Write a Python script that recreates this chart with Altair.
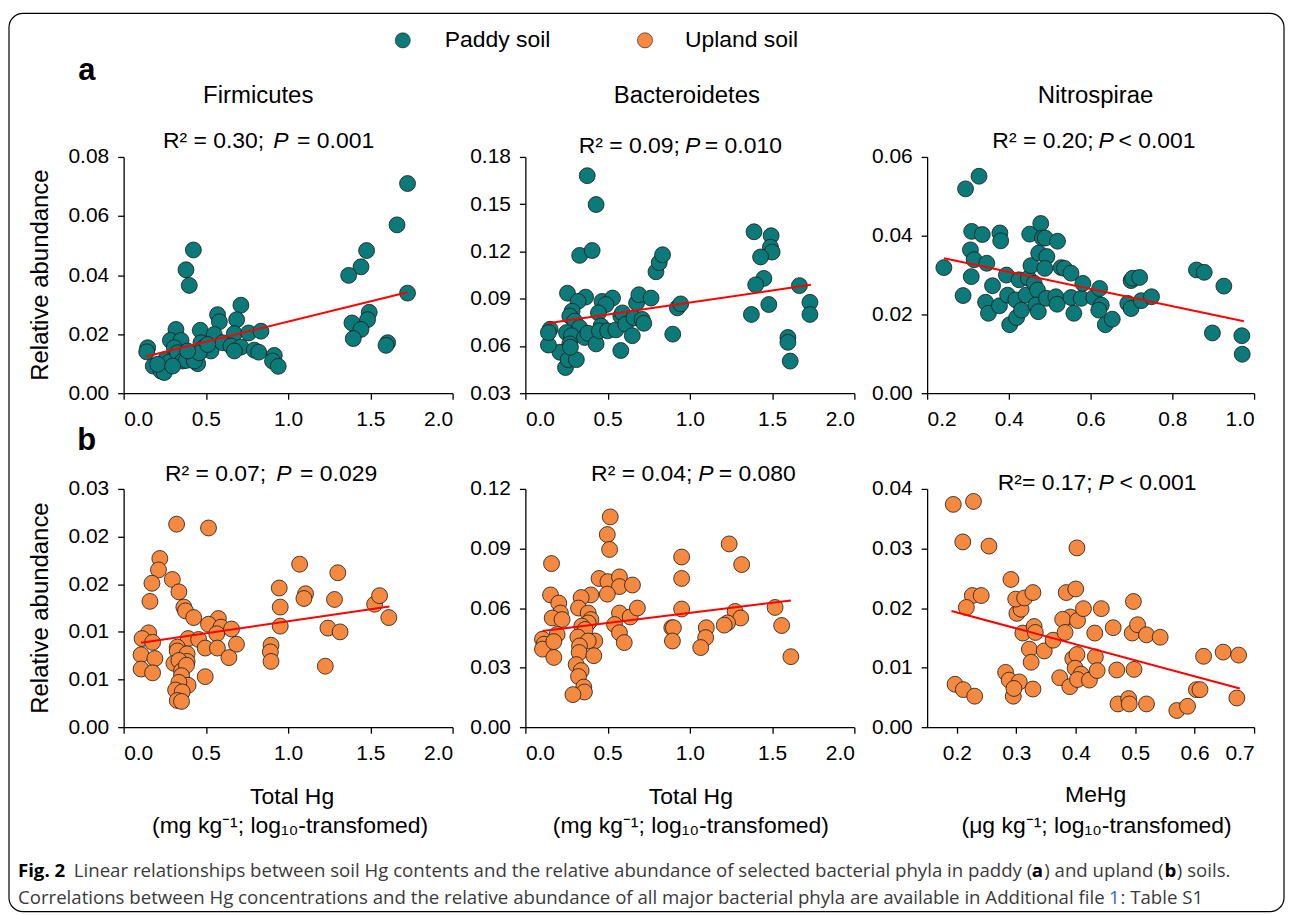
import altair as alt
import pandas as pd

TEAL = "#0b7a78"
ORANGE = "#f5893f"

# ---------------- data ----------------
# (a) paddy soil, Firmicutes vs Total Hg
a1_pts = [(1.726,0.0710),(1.662,0.0570),(1.477,0.0483),(1.443,0.0428),(1.368,0.0399),
          (1.726,0.0339),(1.493,0.0274),(1.483,0.0249),(1.388,0.0238),(1.443,0.0216),
          (1.396,0.0185),(1.605,0.0171),(1.595,0.0162),(0.424,0.0485),(0.379,0.0418),
          (0.399,0.0365),(0.713,0.0298),(0.571,0.0266),(0.582,0.0242),(0.687,0.0249),
          (0.466,0.0213),(0.551,0.0199),(0.673,0.0202),(0.760,0.0204),(0.835,0.0210),
          (0.318,0.0216),(0.284,0.0179),(0.349,0.0179),(0.470,0.0171),(0.486,0.0154),
          (0.531,0.0143),(0.602,0.0171),(0.652,0.0160),(0.713,0.0156),(0.673,0.0143),
          (0.794,0.0146),(0.821,0.0139),(0.916,0.0128),(0.905,0.0109),(0.940,0.0091),
          (0.146,0.0154),(0.140,0.0140),(0.180,0.0092),(0.227,0.0075),(0.247,0.0070),
          (0.257,0.0115),(0.278,0.0106),(0.308,0.0154),(0.328,0.0137),(0.359,0.0109),
          (0.381,0.0111),(0.450,0.0100),(0.430,0.0109),(0.460,0.0137),(0.207,0.0098),
          (0.298,0.0092),(0.389,0.0143),(0.511,0.0165)]
a1_fit_x = [0.136, 1.726]
a1_fit_y = [0.0124, 0.0342]

# (a) paddy soil, Bacteroidetes vs Total Hg
a2_pts = [(0.376,0.1681),(0.430,0.1498),(0.330,0.1175),(0.406,0.1206),(0.256,0.0935),
          (0.366,0.0910),(0.320,0.0883),(0.466,0.0883),(0.530,0.0904),(0.490,0.0863),
          (0.444,0.0810),(0.284,0.0821),(0.270,0.0790),(0.300,0.0758),(0.330,0.0717),
          (0.250,0.0685),(0.280,0.0665),(0.360,0.0654),(0.380,0.0681),(0.430,0.0613),
          (0.460,0.0727),(0.450,0.0696),(0.500,0.0696),(0.550,0.0702),(0.580,0.0790),
          (0.590,0.0810),(0.610,0.0738),(0.650,0.0665),(0.660,0.0779),(0.676,0.0873),
          (0.690,0.0925),(0.710,0.0769),(0.720,0.0744),(0.764,0.0904),(0.580,0.0571),
          (0.270,0.0613),(0.210,0.0560),(0.140,0.0606),(0.150,0.0706),(0.140,0.0685),
          (0.244,0.0463),(0.260,0.0513),(0.310,0.0513),(0.274,0.0592),(0.794,0.1071),
          (0.814,0.1129),(0.834,0.1179),(0.896,0.0675),(0.924,0.0842),(0.944,0.0867),
          (1.390,0.1325),(1.494,0.1300),(1.490,0.1227),(1.500,0.1196),(1.430,0.1165),
          (1.450,0.1029),(1.400,0.0988),(1.480,0.0863),(1.374,0.0800),(1.666,0.0983),
          (1.730,0.0877),(1.730,0.0800),(1.596,0.0654),(1.596,0.0623),(1.610,0.0504)]
a2_fit_x = [0.136, 1.736]
a2_fit_y = [0.0744, 0.0988]

# (a) paddy soil, Nitrospirae vs MeHg
a3_pts = [(0.241,0.0319),(0.294,0.0519),(0.327,0.0551),(0.309,0.0411),(0.335,0.0403),
          (0.378,0.0407),(0.380,0.0387),(0.306,0.0364),(0.315,0.0339),(0.346,0.0330),
          (0.308,0.0296),(0.288,0.0248),(0.343,0.0231),(0.350,0.0203),(0.360,0.0273),
          (0.377,0.0222),(0.394,0.0300),(0.397,0.0249),(0.402,0.0174),(0.419,0.0192),
          (0.417,0.0237),(0.431,0.0211),(0.425,0.0288),(0.442,0.0249),(0.448,0.0292),
          (0.451,0.0404),(0.454,0.0324),(0.462,0.0279),(0.470,0.0262),(0.466,0.0224),
          (0.472,0.0207),(0.478,0.0431),(0.482,0.0394),(0.489,0.0394),(0.473,0.0356),
          (0.493,0.0347),(0.488,0.0317),(0.492,0.0241),(0.515,0.0245),(0.518,0.0226),
          (0.519,0.0386),(0.528,0.0319),(0.536,0.0317),(0.552,0.0305),(0.552,0.0243),
          (0.559,0.0203),(0.577,0.0241),(0.581,0.0279),(0.608,0.0243),(0.622,0.0266),
          (0.626,0.0224),(0.620,0.0211),(0.636,0.0174),(0.653,0.0188),(0.691,0.0228),
          (0.699,0.0215),(0.699,0.0286),(0.703,0.0292),(0.720,0.0294),(0.724,0.0235),
          (0.749,0.0245),(0.859,0.0313),(0.878,0.0307),(0.926,0.0272),(0.898,0.0153),
          (0.970,0.0146),(0.971,0.0099)]
a3_fit_x = [0.241, 0.975]
a3_fit_y = [0.0343, 0.0183]

# (b) upland soil, Firmicutes vs Total Hg
b1_pts = [(0.322,0.0213),(0.516,0.0209),(0.220,0.0177),(0.212,0.0165),(0.296,0.0155),
          (0.172,0.0151),(0.336,0.0142),(0.160,0.0132),(0.366,0.0126),(0.376,0.0122),
          (0.426,0.0115),(0.576,0.0114),(0.516,0.0108),(0.592,0.0105),(0.656,0.0103),
          (0.566,0.0098),(0.152,0.0099),(0.112,0.0093),(0.176,0.0089),(0.392,0.0093),
          (0.456,0.0092),(0.496,0.0083),(0.570,0.0083),(0.686,0.0087),(0.326,0.0084),
          (0.326,0.0080),(0.386,0.0077),(0.106,0.0076),(0.190,0.0072),(0.306,0.0067),
          (0.386,0.0069),(0.336,0.0070),(0.352,0.0059),(0.382,0.0065),(0.106,0.0061),
          (0.176,0.0057),(0.496,0.0053),(0.640,0.0073),(0.352,0.0054),(0.392,0.0044),
          (0.336,0.0047),(0.316,0.0039),(0.356,0.0037),(0.326,0.0028),(0.352,0.0027),
          (0.896,0.0086),(0.892,0.0079),(0.896,0.0069),(0.946,0.0146),(0.952,0.0126),
          (0.952,0.0106),(1.070,0.0171),(1.106,0.0140),(1.096,0.0135),(1.242,0.0104),
          (1.226,0.0064),(1.282,0.0134),(1.302,0.0162),(1.316,0.0100),(1.526,0.0129),
          (1.556,0.0138),(1.612,0.0115)]
b1_fit_x = [0.106, 1.616]
b1_fit_y = [0.00885, 0.01266]

# (b) upland soil, Bacteroidetes vs Total Hg
b2_pts = [(0.516,0.1059),(0.498,0.0970),(0.512,0.0895),(0.159,0.0824),(0.448,0.0749),
          (0.502,0.0733),(0.572,0.0757),(0.572,0.0708),(0.651,0.0716),(0.498,0.0670),
          (0.153,0.0666),(0.398,0.0666),(0.339,0.0653),(0.203,0.0625),(0.323,0.0600),
          (0.213,0.0575),(0.163,0.0550),(0.223,0.0542),(0.382,0.0575),(0.398,0.0542),
          (0.382,0.0525),(0.572,0.0575),(0.637,0.0555),(0.681,0.0600),(0.542,0.0517),
          (0.572,0.0476),(0.601,0.0426),(0.343,0.0509),(0.363,0.0492),(0.319,0.0454),
          (0.193,0.0467),(0.104,0.0443),(0.114,0.0418),(0.104,0.0393),(0.173,0.0431),
          (0.422,0.0434),(0.382,0.0434),(0.329,0.0409),(0.327,0.0376),(0.416,0.0360),
          (0.173,0.0351),(0.309,0.0315),(0.339,0.0285),(0.323,0.0255),(0.355,0.0202),
          (0.359,0.0177),(0.289,0.0164),(0.890,0.0501),(0.900,0.0501),(0.894,0.0434),
          (0.950,0.0857),(0.950,0.0749),(0.950,0.0595),(1.100,0.0501),(1.096,0.0451),
          (1.066,0.0401),(1.239,0.0923),(1.315,0.0819),(1.275,0.0583),(1.309,0.0550),
          (1.229,0.0525),(1.209,0.0514),(1.518,0.0603),(1.558,0.0512),(1.614,0.0355)]
b2_fit_x = [0.104, 1.614]
b2_fit_y = [0.0484, 0.0638]

# (b) upland soil, Nitrospirae vs MeHg
b3_pts = [(0.194,0.0374),(0.228,0.0379),(0.210,0.0311),(0.254,0.0304),(0.291,0.0248),
          (0.226,0.0221),(0.241,0.0221),(0.216,0.0201),(0.197,0.0072),(0.211,0.0063),
          (0.230,0.0052),(0.282,0.0092),(0.288,0.0079),(0.295,0.0052),(0.305,0.0076),
          (0.296,0.0065),(0.301,0.0191),(0.308,0.0198),(0.299,0.0215),(0.314,0.0217),
          (0.328,0.0226),(0.311,0.0158),(0.330,0.0169),(0.332,0.0159),(0.322,0.0131),
          (0.325,0.0109),(0.347,0.0128),(0.362,0.0146),(0.328,0.0064),(0.384,0.0226),
          (0.400,0.0232),(0.402,0.0301),(0.391,0.0185),(0.378,0.0181),(0.382,0.0159),
          (0.403,0.0179),(0.413,0.0199),(0.443,0.0199),(0.432,0.0158),(0.463,0.0167),
          (0.395,0.0115),(0.402,0.0122),(0.399,0.0099),(0.409,0.0089),(0.373,0.0083),
          (0.390,0.0068),(0.403,0.0080),(0.423,0.0079),(0.433,0.0118),(0.436,0.0095),
          (0.469,0.0096),(0.471,0.0039),(0.489,0.0048),(0.490,0.0039),(0.498,0.0097),
          (0.497,0.0211),(0.495,0.0158),(0.504,0.0172),(0.519,0.0155),(0.542,0.0151),
          (0.519,0.0039),(0.570,0.0028),(0.588,0.0035),(0.603,0.0063),(0.609,0.0063),
          (0.615,0.0119),(0.648,0.0126),(0.674,0.0121),(0.671,0.0049)]
b3_fit_x = [0.191, 0.676]
b3_fit_y = [0.0195, 0.0065]

# axes
hg_ticks = [0.0, 0.5, 1.0, 1.5, 2.0]
mehg_a_ticks = [0.2, 0.4, 0.6, 0.8, 1.0]
mehg_b_ticks = [0.2, 0.3, 0.4, 0.5, 0.6, 0.7]
a1_yticks = [0.0, 0.02, 0.04, 0.06, 0.08]
a2_yticks = [0.03, 0.06, 0.09, 0.12, 0.15, 0.18]
a3_yticks = [0.0, 0.02, 0.04, 0.06]
b1_yticks = [0.0, 0.005, 0.01, 0.015, 0.02, 0.025]
b2_yticks = [0.0, 0.03, 0.06, 0.09, 0.12]
b3_yticks = [0.0, 0.01, 0.02, 0.03, 0.04]

FONT = "Liberation Sans"


def txt(s, x, y, size=23, weight="normal", style="normal", align="center",
        baseline="middle", color="black", font=FONT, angle=None):
    kw = dict(fontSize=size, fontWeight=weight, fontStyle=style, align=align,
              baseline=baseline, color=color, font=font)
    if angle is not None:
        kw["angle"] = angle
    return alt.Chart(pd.DataFrame({"t": [s]})).mark_text(**kw).encode(
        x=alt.value(x), y=alt.value(y), text="t:N")


def r2(left, rest, semi, pl, rl, y):
    return [txt(left, semi, y, align="right"),
            txt("P", pl, y, style="italic", align="left"),
            txt(rest, rl, y, align="left")]


def panel(pts, fx, fy, color, xdom, xticks, ydom, yticks, w, h, extra, ylabelexpr=None):
    df = pd.DataFrame(pts, columns=["x", "y"])
    fit = pd.DataFrame({"x": fx, "y": fy})
    xsc = alt.Scale(domain=xdom, nice=False, zero=False)
    ysc = alt.Scale(domain=ydom, nice=False, zero=False)
    xax = alt.Axis(values=xticks, format=".1f", title=None, grid=False)
    if ylabelexpr:
        yax = alt.Axis(values=yticks, format=".3f", title=None, grid=False, labelExpr=ylabelexpr)
    else:
        yax = alt.Axis(values=yticks, format=".2f", title=None, grid=False)
    pts_layer = alt.Chart(df).mark_circle(size=255, opacity=1, color=color,
                                          stroke="#1a1a1a", strokeWidth=0.8).encode(
        x=alt.X("x:Q", scale=xsc, axis=xax), y=alt.Y("y:Q", scale=ysc, axis=yax))
    line_layer = alt.Chart(fit).mark_line(color="#ff0000", strokeWidth=2).encode(
        x=alt.X("x:Q", scale=xsc, axis=xax), y=alt.Y("y:Q", scale=ysc, axis=yax))
    return alt.layer(pts_layer, line_layer, *extra).properties(width=w, height=h)


# ---------- decorations (pixel positions relative to each panel) ----------
border = alt.Chart(pd.DataFrame({"t": [0]})).mark_rect(
    fillOpacity=0, stroke="black", strokeWidth=1.2, cornerRadius=14).encode(
    x=alt.value(-115), x2=alt.value(1164), y=alt.value(-144), y2=alt.value(757))

legend_paddy = alt.Chart(pd.DataFrame({"t": [0]})).mark_circle(
    size=230, opacity=1, color=TEAL, stroke="#1a1a1a", strokeWidth=0.6).encode(
    x=alt.value(280), y=alt.value(-117))
legend_upland = alt.Chart(pd.DataFrame({"t": [0]})).mark_circle(
    size=230, opacity=1, color=ORANGE, stroke="#1a1a1a", strokeWidth=0.6).encode(
    x=alt.value(523), y=alt.value(-117))

a1_extra = [border, legend_paddy, legend_upland,
            txt("Paddy soil", 322, -117, align="left"),
            txt("Upland soil", 563, -117, align="left"),
            txt("a", -37, -86, size=31, weight="bold"),
            txt("Firmicutes", 135, -61, size=24),
            txt("Relative abundance", -83, 118.5, size=24, angle=270)] + \
           r2("R² = 0.30;", "= 0.001", 141, 150, 174, -15.5)

a2_extra = [txt("Bacteroidetes", 162, -61, size=24)] + \
           r2("R² = 0.09;", "= 0.010", 155, 160, 180, -11)

a3_extra = [txt("Nitrospirae", 169, -61, size=24)] + \
           r2("R² = 0.20;", "< 0.001", 167, 172, 192, -15.5)

CAP = "#3a3a3a"
CF = "Open Sans"
CS = 18.7
b1_extra = [txt("b", -37, -48, size=31, weight="bold"),
            txt("Relative abundance", -83, 119.5, size=24, angle=270),
            txt("Total Hg", 169, 309),
            txt("(mg kg⁻¹; log₁₀-transfomed)", 167, 338),
            txt("Fig. 2", -106, 389, size=CS, weight="bold", align="left", baseline="alphabetic", font=CF),
            txt("Linear relationships between soil Hg contents and the relative abundance of selected bacterial phyla in paddy (",
                -50, 389, size=CS, align="left", baseline="alphabetic", color=CAP, font=CF),
            txt("a", 911, 389, size=CS, weight="bold", align="left", baseline="alphabetic", font=CF),
            txt(") and upland (", 923.5, 389, size=CS, align="left", baseline="alphabetic", color=CAP, font=CF),
            txt("b", 1044, 389, size=CS, weight="bold", align="left", baseline="alphabetic", font=CF),
            txt(") soils.", 1056.5, 389, size=CS, align="left", baseline="alphabetic", color=CAP, font=CF),
            txt("Correlations between Hg concentrations and the relative abundance of all major bacterial phyla are available in Additional file",
                -106, 416, size=CS, align="left", baseline="alphabetic", color=CAP, font=CF),
            txt("1", 988.5, 416, size=CS, align="left", baseline="alphabetic", color="#3b5bdb", font=CF),
            txt(": Table S1", 1000, 416, size=CS, align="left", baseline="alphabetic", color=CAP, font=CF)] + \
           r2("R² = 0.07;", "= 0.029", 143, 153, 177, -15)

b2_extra = [txt("Total Hg", 166, 309),
            txt("(mg kg⁻¹; log₁₀-transfomed)", 166, 338)] + \
           r2("R² = 0.04;", "= 0.080", 167.5, 173.5, 194, -15)

b3_extra = [txt("MeHg", 169, 307),
            txt("(μg kg⁻¹; log₁₀-transfomed)", 170, 338)] + \
           r2("R²= 0.17;", "< 0.001", 166, 172, 193, -6)

a1 = panel(a1_pts, a1_fit_x, a1_fit_y, TEAL, [0, 2], hg_ticks, [0, 0.08], a1_yticks, 330, 237, a1_extra)
a2 = panel(a2_pts, a2_fit_x, a2_fit_y, TEAL, [0, 2], hg_ticks, [0.03, 0.18], a2_yticks, 330, 237, a2_extra)
a3 = panel(a3_pts, a3_fit_x, a3_fit_y, TEAL, [0.2, 1.0], mehg_a_ticks, [0, 0.06], a3_yticks, 328, 237, a3_extra)
b1 = panel(b1_pts, b1_fit_x, b1_fit_y, ORANGE, [0, 2], hg_ticks, [0, 0.025], b1_yticks, 330, 239, b1_extra,
           ylabelexpr="format(round(datum.value*100 + 0.0001)/100, '.2f')")
b2 = panel(b2_pts, b2_fit_x, b2_fit_y, ORANGE, [0, 2], hg_ticks, [0, 0.12], b2_yticks, 330, 239, b2_extra)
b3 = panel(b3_pts, b3_fit_x, b3_fit_y, ORANGE, [0.15, 0.7], mehg_b_ticks, [0, 0.04], b3_yticks, 328, 239, b3_extra)

chart = alt.concat(a1, a2, a3, b1, b2, b3, columns=3,
                   spacing={"row": 96, "column": 73}, bounds="flush").properties(
    padding={"left": 0, "top": 3, "right": 0, "bottom": 0}
).configure_view(stroke=None).configure_axis(
    domainColor="black", domainWidth=1.3, tickColor="black", tickWidth=1.3, tickSize=6,
    labelFont=FONT, labelFontSize=21, labelColor="black", labelPadding=9, grid=False
)

chart.save("out.html", embed_options={"renderer": "svg", "actions": False})
